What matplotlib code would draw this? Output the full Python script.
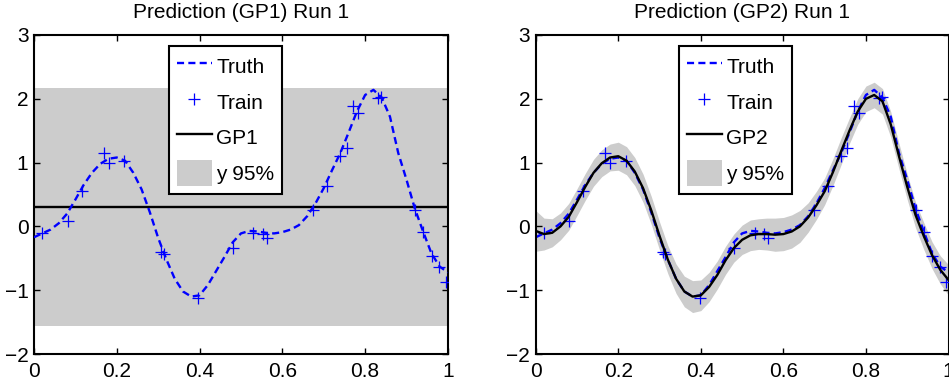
import numpy as np
import matplotlib
matplotlib.use("Agg")
import matplotlib.pyplot as plt
from matplotlib.patches import Patch
from matplotlib.lines import Line2D

plt.rcParams['font.family'] = ['Liberation Sans', 'DejaVu Sans']

# evaluation grid for the curves
grid_x = np.round(np.arange(0, 1.0001, 0.02), 2)

truth_y = [-0.17, -0.11, -0.05, 0.05, 0.20, 0.42, 0.65, 0.84, 0.98, 1.06,
           1.08, 1.03, 0.84, 0.58, 0.22, -0.18, -0.52, -0.82, -1.02, -1.10,
           -1.08, -0.92, -0.70, -0.48, -0.25, -0.11, -0.07, -0.08, -0.10, -0.11,
           -0.09, -0.05, 0.02, 0.16, 0.36, 0.60, 0.88, 1.15, 1.47, 1.80,
           2.06, 2.14, 2.02, 1.72, 1.15, 0.73, 0.28, -0.08, -0.42, -0.63,
           -0.72]

train_x = [0.019, 0.081, 0.115, 0.169, 0.181, 0.218, 0.308, 0.314, 0.397,
           0.481, 0.530, 0.553, 0.562, 0.675, 0.707, 0.739, 0.755, 0.771,
           0.783, 0.832, 0.838, 0.920, 0.940, 0.961, 0.979, 0.995]
train_y = [-0.10, 0.09, 0.56, 1.15, 0.99, 1.03, -0.40, -0.44, -1.12,
           -0.34, -0.10, -0.12, -0.18, 0.26, 0.64, 1.11, 1.23, 1.88,
           1.78, 2.02, 2.03, 0.26, -0.08, -0.47, -0.64, -0.87]

# GP1: constant predictive mean and 95% interval
gp1_mean = 0.30
gp1_half = 1.866

# GP2: predictive mean and 95% half-width on the grid
gp2_mean = [-0.07, -0.12, -0.10, 0.00, 0.15, 0.38, 0.62, 0.84, 0.99, 1.08,
            1.10, 1.03, 0.86, 0.60, 0.25, -0.15, -0.52, -0.82, -1.02, -1.10,
            -1.08, -0.95, -0.76, -0.53, -0.34, -0.21, -0.14, -0.12, -0.12, -0.13,
            -0.12, -0.08, 0.00, 0.14, 0.33, 0.55, 0.85, 1.18, 1.50, 1.80,
            2.00, 2.06, 1.96, 1.60, 1.10, 0.62, 0.18, -0.15, -0.45, -0.68,
            -0.84]
gp2_half = [0.32, 0.25, 0.22, 0.21, 0.21, 0.21, 0.21, 0.21, 0.21, 0.21,
            0.22, 0.22, 0.22, 0.22, 0.22, 0.22, 0.22, 0.23, 0.24, 0.25,
            0.24, 0.23, 0.22, 0.22, 0.22, 0.23, 0.24, 0.24, 0.25, 0.26,
            0.26, 0.26, 0.25, 0.23, 0.22, 0.21, 0.21, 0.21, 0.20, 0.20,
            0.20, 0.20, 0.20, 0.20, 0.20, 0.20, 0.20, 0.21, 0.21, 0.22,
            0.24]

xticks = [0, 0.2, 0.4, 0.6, 0.8, 1]
xticklabels = ['0', '0.2', '0.4', '0.6', '0.8', '1']
yticks = [-2, -1, 0, 1, 2, 3]

FS = 15
BAND = '#cccccc'
BLUE = '#0000ff'
DASH = (0, (3.0, 1.8))
LW = 1.7

fig = plt.figure(figsize=(9.49, 3.88), dpi=100)
ax1 = fig.add_axes([0.0358, 0.0876, 0.4362, 0.8222])
ax2 = fig.add_axes([0.5645, 0.0876, 0.4350, 0.8222])


def style(ax, title):
    ax.set_xlim(0, 1)
    ax.set_ylim(-2, 3)
    ax.set_xticks(xticks)
    ax.set_xticklabels(xticklabels)
    ax.set_yticks(yticks)
    ax.tick_params(direction='in', length=4, width=1.0, labelsize=FS,
                   top=True, right=True, pad=4)
    ax.tick_params(axis='x', pad=6)
    for s in ax.spines.values():
        s.set_linewidth(1.5)
    ax.set_title(title, fontsize=FS, pad=12)


def legend(ax, gp_label, cx):
    handles = [
        Line2D([], [], color=BLUE, lw=LW, linestyle=DASH),
        Line2D([], [], color=BLUE, lw=0, marker='+', markersize=9, mew=0.9),
        Line2D([], [], color='black', lw=LW),
        Patch(facecolor=BAND, edgecolor='none'),
    ]
    leg = ax.legend(handles, ['Truth', 'Train', gp_label, 'y 95%'],
                    loc='upper center', bbox_to_anchor=(cx, 0.966),
                    fontsize=FS, frameon=True, fancybox=False,
                    handlelength=1.7, handleheight=1.6, handletextpad=0.2,
                    labelspacing=0.42, borderpad=0.35, borderaxespad=0.0)
    fr = leg.get_frame()
    fr.set_edgecolor('black')
    fr.set_linewidth(1.5)
    fr.set_alpha(1)


x = grid_x
# left panel: GP1
ax1.fill_between(x, gp1_mean - gp1_half, gp1_mean + gp1_half,
                 color=BAND, lw=0, zorder=1)
ax1.plot(x, truth_y, color=BLUE, lw=LW, linestyle=DASH, zorder=3)
ax1.plot(train_x, train_y, '+', color=BLUE, markersize=9, mew=0.9, zorder=4)
ax1.axhline(gp1_mean, color='black', lw=LW, zorder=2)
style(ax1, 'Prediction (GP1) Run 1')
legend(ax1, 'GP1', 0.463)

# right panel: GP2
m2 = np.array(gp2_mean)
h2 = np.array(gp2_half)
ax2.fill_between(x, m2 - h2, m2 + h2, color=BAND, lw=0, zorder=1)
ax2.plot(x, truth_y, color=BLUE, lw=LW, linestyle=DASH, zorder=2)
ax2.plot(train_x, train_y, '+', color=BLUE, markersize=9, mew=0.9, zorder=3)
ax2.plot(x, m2, color='black', lw=LW, zorder=4)
style(ax2, 'Prediction (GP2) Run 1')
legend(ax2, 'GP2', 0.484)

fig.savefig('out.png', dpi=100)
